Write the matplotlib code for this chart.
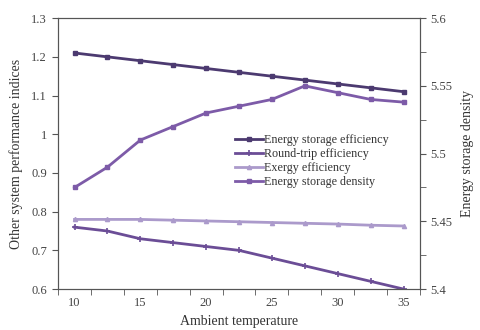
import numpy as np
import matplotlib.pyplot as plt

plt.rcParams['font.family'] = ['Liberation Serif', 'DejaVu Serif']

temps = [10, 12.5, 15, 17.5, 20, 22.5, 25, 27.5, 30, 32.5, 35]
storage_eff = [1.21, 1.20, 1.19, 1.18, 1.17, 1.16, 1.15, 1.14, 1.13, 1.12, 1.11]
round_trip = [0.76, 0.75, 0.73, 0.72, 0.71, 0.70, 0.68, 0.66, 0.64, 0.62, 0.60]
exergy_eff = [0.780, 0.780, 0.780, 0.778, 0.776, 0.774, 0.772, 0.770, 0.768, 0.765, 0.763]
storage_density = [5.475, 5.490, 5.510, 5.520, 5.530, 5.535, 5.540, 5.550, 5.545, 5.540, 5.538]

c_eff = '#4c3a70'
c_rt = '#6b4d96'
c_ex = '#ab9acb'
c_den = '#7d5ba8'
gray = '#555555'

fig = plt.figure(figsize=(4.8, 3.3), dpi=100)
ax = fig.add_axes([0.121, 0.124, 0.754, 0.821])
ax2 = ax.twinx()

l1, = ax.plot(temps, storage_eff, color=c_eff, lw=2, marker='s', ms=3, label='Energy storage efficiency')
l2, = ax.plot(temps, round_trip, color=c_rt, lw=2, marker='+', ms=4, mew=1.2, label='Round-trip efficiency')
l3, = ax.plot(temps, exergy_eff, color=c_ex, lw=2, marker='^', ms=3, label='Exergy efficiency')
l4, = ax2.plot(temps, storage_density, color=c_den, lw=2, marker='s', ms=3, label='Energy storage density')

ax.set_xlim(8.75, 36.25)
ax.set_ylim(0.6, 1.3)
ax2.set_ylim(5.4, 5.6)
ax.set_xticks([10, 15, 20, 25, 30, 35])
ax.set_xticks(np.arange(8.75, 36.3, 2.5), minor=True)
ax.set_yticks(np.arange(0.6, 1.31, 0.1))
ax.set_yticklabels(['0.6', '0.7', '0.8', '0.9', '1', '1.1', '1.2', '1.3'])
ax2.set_yticks([5.4, 5.45, 5.5, 5.55, 5.6])
ax2.set_yticks(np.arange(5.4, 5.601, 0.025), minor=True)
ax2.set_yticklabels(['5.4', '5.45', '5.5', '5.55', '5.6'])

for a in (ax, ax2):
    for s in a.spines.values():
        s.set_color(gray)
        s.set_linewidth(0.8)
    a.tick_params(which='both', direction='out', colors=gray, labelcolor='#444444', labelsize=9, length=4)
    a.tick_params(which='minor', length=4)
ax.tick_params(axis='x', which='major', length=0, pad=6)
ax.tick_params(axis='y', pad=4)

ax.set_xlabel('Ambient temperature', fontsize=10, color='#333333', labelpad=4)
ax.set_ylabel('Other system performance indices', fontsize=10, color='#333333', labelpad=6)
ax2.set_ylabel('Energy storage density', fontsize=10, color='#333333', labelpad=6)

ax.legend(handles=[l1, l2, l3, l4], loc='upper left', bbox_to_anchor=(0.473, 0.594),
          frameon=False, fontsize=8.7, handlelength=2.3, handletextpad=0.1,
          labelspacing=0.17, borderpad=0, labelcolor='#333333')

fig.savefig('out.png', dpi=100)
